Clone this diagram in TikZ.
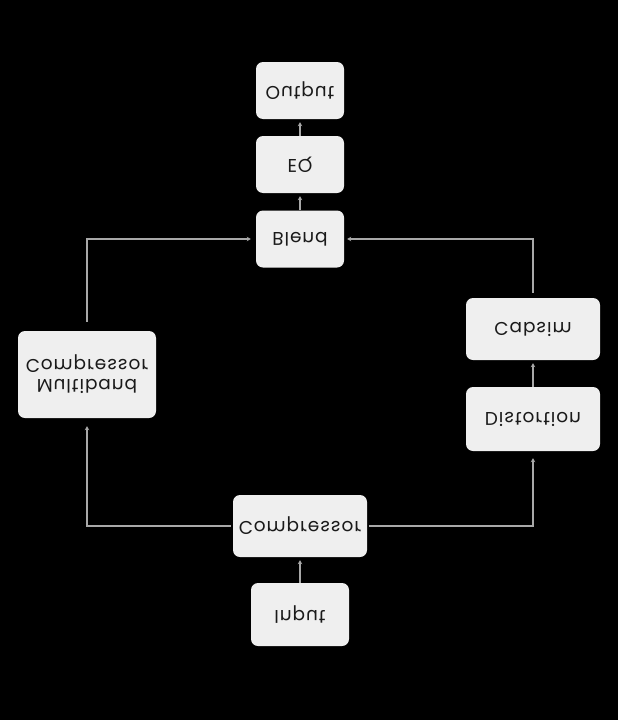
\documentclass[tikz,border=0pt]{standalone}
\usepackage{fontspec}
\setmainfont{Poppins}[LetterSpace=5]
\usetikzlibrary{arrows.meta}
\definecolor{boxfill}{HTML}{EFEFEF}
\definecolor{linegray}{HTML}{A8A8A8}
\definecolor{txt}{HTML}{1A1A1A}
\begin{document}
\begin{tikzpicture}[x=1pt,y=1pt,yscale=-1,transform shape,
  box/.style={draw=none,fill=boxfill,rounded corners=7pt,inner sep=0pt,
    font=\fontsize{18.5}{20}\selectfont,text=txt,align=center},
  arr/.style={draw=linegray,line width=1.6pt,-{Stealth[length=4pt,width=4.5pt]},shorten >=3pt}]
\fill[black] (0,0) rectangle (618,720);
\useasboundingbox (0,0) rectangle (618,720);
\node[box,minimum width=88pt,minimum height=57pt] (out) at (300,90.5) {Output};
\node[box,minimum width=88pt,minimum height=57pt] (eq) at (300,164.5) {EQ};
\node[box,minimum width=88pt,minimum height=57pt] (blend) at (300,239) {Blend};
\node[box,minimum width=138pt,minimum height=87pt] (mb) at (87,374.5) {Multiband\\Compressor};
\node[box,minimum width=134pt,minimum height=62pt] (cab) at (533,329) {Cabsim};
\node[box,minimum width=134pt,minimum height=64pt] (dist) at (533,419) {Distortion};
\node[box,minimum width=134pt,minimum height=62pt] (comp) at (300,526) {Compressor};
\node[box,minimum width=98pt,minimum height=63pt] (in) at (300,614.5) {Input};
% note: with the flipped frame, north = image bottom, south = image top
\draw[arr] (in.south) -- (comp.north);
\draw[arr,shorten <=2pt,shorten >=7pt] (comp.east) -| (dist.north);
\draw[arr,shorten <=2pt,shorten >=8pt] (comp.west) -| (mb.north);
\draw[arr] (dist.south) -- (cab.north);
\draw[arr,shorten <=5pt] (cab.south) |- (blend.east);
\draw[arr,shorten <=9pt,shorten >=5pt] (mb.south) |- (blend.west);
\draw[arr] (blend.south) -- (eq.north);
\draw[arr] (eq.south) -- (out.north);
\end{tikzpicture}
\end{document}
